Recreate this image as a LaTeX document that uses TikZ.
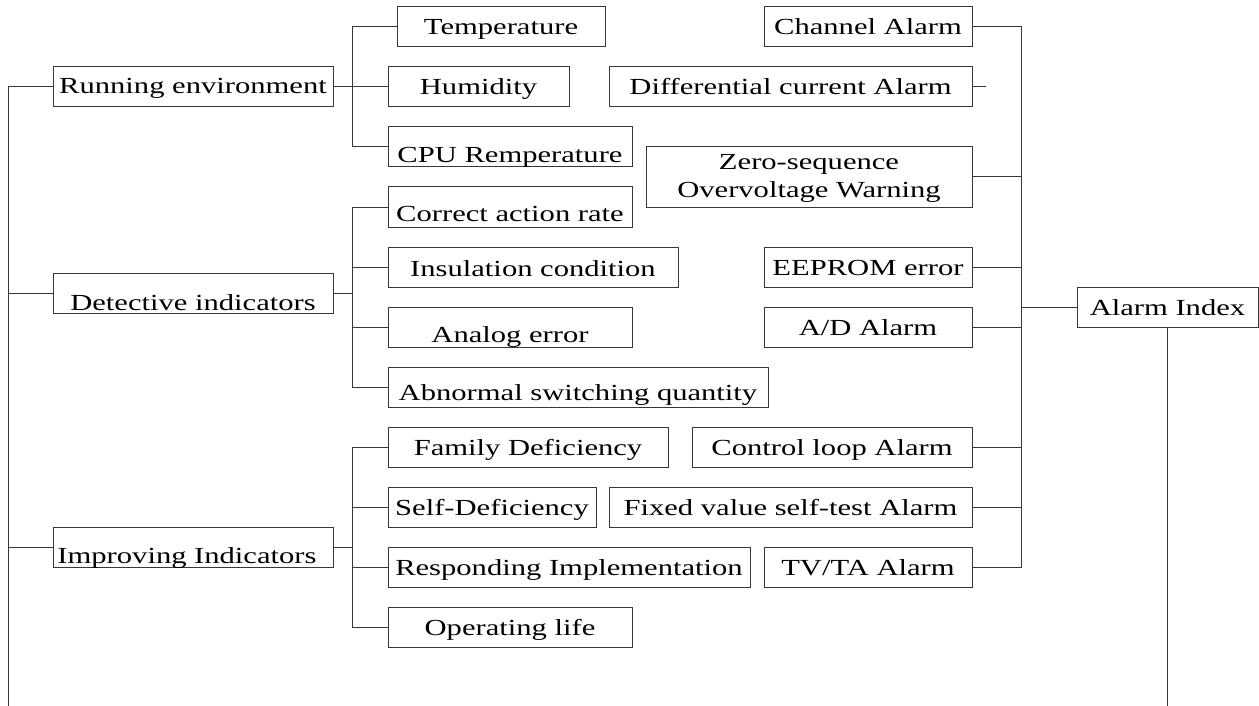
\documentclass[tikz,border=0pt]{standalone}
\usepackage{fontspec}
\setmainfont[FakeStretch=1.33]{Liberation Serif}
\tikzset{
  box/.style={draw=black!78, line width=1pt, inner sep=0pt, outer sep=0pt, rectangle},
  txt/.style={anchor=base, inner sep=0pt, outer sep=0pt, font=\fontsize{23pt}{27pt}\selectfont},
  conn/.style={draw=black!78, line width=1pt}
}
\newcommand\mybox[7]{%
  \node[box, minimum width={(#4-#2)*1pt}, minimum height={(#5-#3)*1pt}] (#1) at ({(#2+#4)/2},{(#3+#5)/2}) {};
  \node[txt] (#1t) at ({(#2+#4)/2},#6) {#7};
}
\begin{document}
\begin{tikzpicture}[x=1pt,y=-1pt]
\useasboundingbox (0,0) rectangle (1259,706);
% left main boxes
\mybox{run}{53}{67}{333}{107}{94}{Running environment}
\mybox{det}{53}{273}{333}{313}{310}{Detective indicators}
\node[box, minimum width=280pt, minimum height=40pt] (imp) at (193,547) {};
\node[txt] (impt) at (187,563) {Improving Indicators};
% middle column
\mybox{temp}{397}{7}{605}{47}{35}{Temperature}
\mybox{hum}{388}{67}{569}{107}{95}{Humidity}
\mybox{cpu}{388}{127}{632}{167}{163}{CPU Remperature}
\mybox{car}{388}{187}{632}{227}{222}{Correct action rate}
\mybox{ins}{388}{247}{678}{287}{276}{Insulation condition}
\mybox{ana}{388}{307}{632}{347}{342}{Analog error}
\mybox{abn}{388}{367}{768}{407}{400}{Abnormal switching quantity}
\mybox{fam}{388}{427}{668}{467}{455}{Family Deficiency}
\mybox{self}{388}{487}{596}{527}{515}{Self-Deficiency}
\mybox{resp}{388}{547}{750}{587}{575}{Responding Implementation}
\mybox{ope}{388}{607}{632}{647}{635}{Operating life}
% right column
\mybox{chan}{764}{7}{972}{47}{35}{Channel Alarm}
\mybox{diff}{609}{67}{972}{107}{95}{Differential current Alarm}
\node[box, minimum width=326pt, minimum height=60pt] (zero) at (809,177) {};
\node[txt] (zerot1) at (809,170) {Zero-sequence};
\node[txt] (zerot2) at (809,197) {Overvoltage Warning};
\mybox{eep}{764}{247}{972}{287}{275}{EEPROM error}
\mybox{ad}{764}{307}{972}{347}{335}{A/D Alarm}
\mybox{ctl}{692}{427}{972}{467}{455}{Control loop Alarm}
\mybox{fix}{609}{487}{972}{527}{515}{Fixed value self-test Alarm}
\mybox{tvta}{764}{547}{972}{587}{575}{TV/TA Alarm}
\mybox{alarm}{1077}{287}{1258}{327}{315}{Alarm Index}
% junction coordinates
\coordinate (LB) at (8,706);
\coordinate (RE) at (352,87);
\coordinate (DE) at (352,293);
\coordinate (IE) at (352,547);
\coordinate (RA) at (1021,307);
\coordinate (DS) at (986,87);
\coordinate (AB) at (1167.5,706);
% left trunk
\draw[conn] (run.west) -| (LB);
\draw[conn] (det.west) -- (det.west -| LB);
\draw[conn] (imp.west) -- (imp.west -| LB);
% running environment
\draw[conn] (run.east) -- (RE);
\draw[conn] (temp.west) -| (RE);
\draw[conn] (cpu.west) -| (RE);
\draw[conn] (hum.west) -- (hum.west -| RE);
% detective
\draw[conn] (det.east) -- (DE);
\draw[conn] (car.west) -| (DE);
\draw[conn] (abn.west) -| (DE);
\draw[conn] (ins.west) -- (ins.west -| DE);
\draw[conn] (ana.west) -- (ana.west -| DE);
% improving
\draw[conn] (imp.east) -- (IE);
\draw[conn] (fam.west) -| (IE);
\draw[conn] (ope.west) -| (IE);
\draw[conn] (self.west) -- (self.west -| IE);
\draw[conn] (resp.west) -- (resp.west -| IE);
% alarm side
\draw[conn] (RA) -- (alarm.west);
\draw[conn] (chan.east) -| (RA);
\draw[conn] (tvta.east) -| (RA);
\draw[conn] (zero.east) -- (zero.east -| RA);
\draw[conn] (eep.east) -- (eep.east -| RA);
\draw[conn] (ad.east) -- (ad.east -| RA);
\draw[conn] (ctl.east) -- (ctl.east -| RA);
\draw[conn] (fix.east) -- (fix.east -| RA);
\draw[conn] (diff.east) -- (DS);
\draw[conn] (alarm.south) -- (alarm.south |- AB);
\end{tikzpicture}
\end{document}
